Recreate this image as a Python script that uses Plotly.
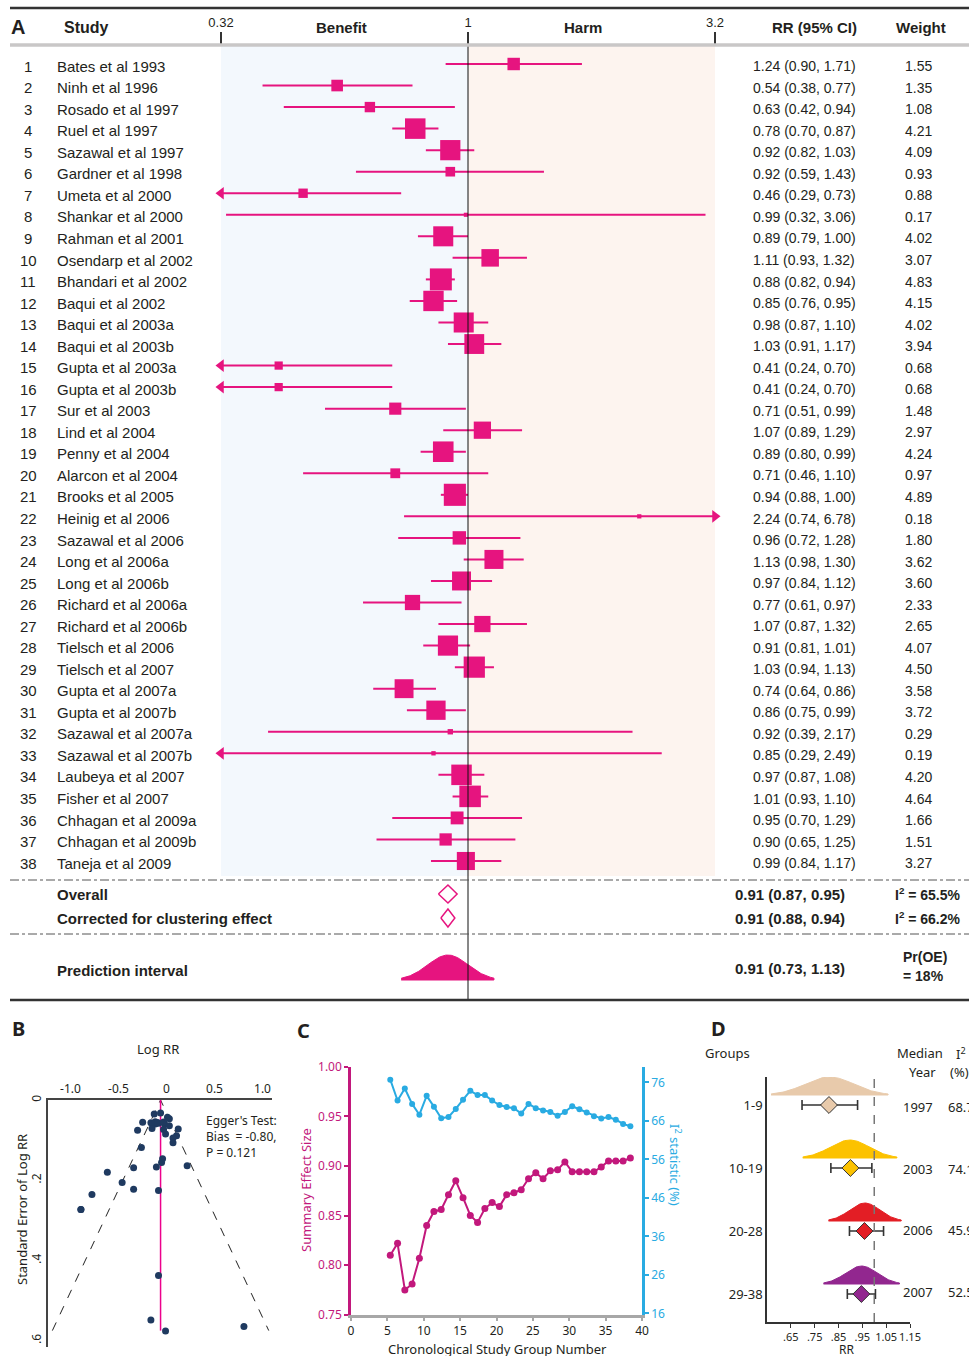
import numpy as np
import plotly.graph_objects as go

W, H = 969, 1356
def px(x): return x / W
def py(y): return 1 - y / H

# ---------------- Panel A data ----------------
studies = ["Bates et al 1993", "Ninh et al 1996", "Rosado et al 1997", "Ruel et al 1997",
           "Sazawal et al 1997", "Gardner et al 1998", "Umeta et al 2000", "Shankar et al 2000",
           "Rahman et al 2001", "Osendarp et al 2002", "Bhandari et al 2002", "Baqui et al 2002",
           "Baqui et al 2003a", "Baqui et al 2003b", "Gupta et al 2003a", "Gupta et al 2003b",
           "Sur et al 2003", "Lind et al 2004", "Penny et al 2004", "Alarcon et al 2004",
           "Brooks et al 2005", "Heinig et al 2006", "Sazawal et al 2006", "Long et al 2006a",
           "Long et al 2006b", "Richard et al 2006a", "Richard et al 2006b", "Tielsch et al 2006",
           "Tielsch et al 2007", "Gupta et al 2007a", "Gupta et al 2007b", "Sazawal et al 2007a",
           "Sazawal et al 2007b", "Laubeya et al 2007", "Fisher et al 2007", "Chhagan et al 2009a",
           "Chhagan et al 2009b", "Taneja et al 2009"]
rr = [1.24, 0.54, 0.63, 0.78, 0.92, 0.92, 0.46, 0.99, 0.89, 1.11, 0.88, 0.85, 0.98, 1.03,
      0.41, 0.41, 0.71, 1.07, 0.89, 0.71, 0.94, 2.24, 0.96, 1.13, 0.97, 0.77, 1.07, 0.91,
      1.03, 0.74, 0.86, 0.92, 0.85, 0.97, 1.01, 0.95, 0.90, 0.99]
ci_lo = [0.90, 0.38, 0.42, 0.70, 0.82, 0.59, 0.29, 0.32, 0.79, 0.93, 0.82, 0.76, 0.87, 0.91,
         0.24, 0.24, 0.51, 0.89, 0.80, 0.46, 0.88, 0.74, 0.72, 0.98, 0.84, 0.61, 0.87, 0.81,
         0.94, 0.64, 0.75, 0.39, 0.29, 0.87, 0.93, 0.70, 0.65, 0.84]
ci_hi = [1.71, 0.77, 0.94, 0.87, 1.03, 1.43, 0.73, 3.06, 1.00, 1.32, 0.94, 0.95, 1.10, 1.17,
         0.70, 0.70, 0.99, 1.29, 0.99, 1.10, 1.00, 6.78, 1.28, 1.30, 1.12, 0.97, 1.32, 1.01,
         1.13, 0.86, 0.99, 2.17, 2.49, 1.08, 1.10, 1.29, 1.25, 1.17]
weights = [1.55, 1.35, 1.08, 4.21, 4.09, 0.93, 0.88, 0.17, 4.02, 3.07, 4.83, 4.15, 4.02, 3.94,
           0.68, 0.68, 1.48, 2.97, 4.24, 0.97, 4.89, 0.18, 1.80, 3.62, 3.60, 2.33, 2.65, 4.07,
           4.50, 3.58, 3.72, 0.29, 0.19, 4.20, 4.64, 1.66, 1.51, 3.27]

summary_labels = ["Overall", "Corrected for clustering effect"]
summary_rr = [0.91, 0.91]
summary_lo = [0.87, 0.88]
summary_hi = [0.95, 0.94]
summary_i2 = [65.5, 66.2]
pi_rr, pi_lo, pi_hi = 0.91, 0.73, 1.13
pr_oe = 18

axis_max = 3.2
axis_min = 1 / axis_max
axis_ticktext = ["0.32", "1", "3.2"]

# ---------------- Panel B data ----------------
funnel_center_rr = 0.94
funnel_se_max = 0.575
egger_bias, egger_p = -0.80, 0.121

# ---------------- Panel C data ----------------
group_number = [5.4, 6.4, 7.4, 8.4, 9.4, 10.4, 11.4, 12.4, 13.4, 14.4, 15.4, 16.4, 17.4, 18.4,
                19.4, 20.4, 21.4, 22.4, 23.4, 24.4, 25.4, 26.4, 27.4, 28.4, 29.4, 30.4, 31.4,
                32.4, 33.4, 34.4, 35.4, 36.4, 37.4, 38.4]
summary_effect = [0.810, 0.822, 0.775, 0.781, 0.807, 0.840, 0.854, 0.856, 0.871, 0.885, 0.868,
                  0.850, 0.843, 0.857, 0.863, 0.859, 0.871, 0.873, 0.876, 0.887, 0.893, 0.887,
                  0.895, 0.896, 0.904, 0.894, 0.894, 0.894, 0.894, 0.899, 0.905, 0.905, 0.905,
                  0.908]
i2_stat = [76.7, 71.3, 74.4, 70.4, 67.6, 72.5, 69.7, 66.7, 67.0, 69.1, 71.5, 73.8, 72.7, 72.7,
           71.3, 70.1, 69.6, 69.3, 67.9, 70.4, 69.3, 68.7, 68.3, 67.3, 68.3, 69.8, 69.0, 68.2,
           67.2, 66.6, 67.0, 66.3, 65.2, 64.6]

# ---------------- Panel D data ----------------
group_labels = ["1-9", "10-19", "20-28", "29-38"]
group_rr = [0.81, 0.90, 0.959, 0.946]
group_lo = [0.697, 0.818, 0.896, 0.887]
group_hi = [0.930, 0.990, 1.039, 1.005]
group_pi_lo = [0.567, 0.700, 0.808, 0.787]
group_pi_hi = [1.058, 1.095, 1.113, 1.106]
group_year = ["1997", "2003", "2006", "2007"]
group_i2 = [68.7, 74.1, 45.9, 52.5]
group_colors = ["#e8caab", "#fcc200", "#e31e25", "#92278f"]

# ---------------- styles ----------------
MAG = "#e6147f"
TXT = "#231f20"
FA = "Liberation Sans, Arial, sans-serif"
FB = "Noto Sans, Open Sans, sans-serif"
MAGC = "#c2187c"
BLUE = "#29abe2"

fig = go.Figure()
n = len(studies)
row_y = list(range(1, n + 1))
row_px0, row_px1 = 64, 861
s = (row_px1 - row_px0) / (n - 1)
def rowpos(pix): return 1 + (pix - row_px0) / s

# ---- forest CI lines
lx, ly = [], []
for i in range(n):
    lx += [max(ci_lo[i], axis_min), min(ci_hi[i], axis_max), None]
    ly += [row_y[i], row_y[i], None]
fig.add_trace(go.Scatter(x=lx, y=ly, mode="lines", line=dict(color=MAG, width=2),
                         xaxis="x", yaxis="y", hoverinfo="skip", showlegend=False))
al = [(axis_min, row_y[i]) for i in range(n) if ci_lo[i] < axis_min]
ar = [(axis_max, row_y[i]) for i in range(n) if ci_hi[i] > axis_max]
if al:
    fig.add_trace(go.Scatter(x=[a[0] for a in al], y=[a[1] for a in al], mode="markers",
                             marker=dict(symbol="triangle-left", size=11, color=MAG, opacity=1),
                             xaxis="x", yaxis="y", showlegend=False))
if ar:
    fig.add_trace(go.Scatter(x=[a[0] for a in ar], y=[a[1] for a in ar], mode="markers",
                             marker=dict(symbol="triangle-right", size=11, color=MAG, opacity=1),
                             xaxis="x", yaxis="y", showlegend=False))
fig.add_trace(go.Scatter(x=rr, y=row_y, mode="markers",
                         marker=dict(symbol="square", color=MAG, opacity=1,
                                     size=[10 * np.sqrt(w) for w in weights],
                                     line=dict(width=0)),
                         xaxis="x", yaxis="y", showlegend=False))

sum_y = [rowpos(894), rowpos(918)]
hh = 9 / s
for k in range(2):
    fig.add_trace(go.Scatter(
        x=[summary_lo[k], summary_rr[k], summary_hi[k], summary_rr[k], summary_lo[k]],
        y=[sum_y[k], sum_y[k] - hh, sum_y[k], sum_y[k] + hh, sum_y[k]],
        mode="lines", fill="toself", fillcolor="white", line=dict(color=MAG, width=1.5),
        xaxis="x", yaxis="y", showlegend=False))

pi_base = rowpos(980)
pi_h = (980 - 955) / s
mu = np.log(pi_rr)
half = (np.log(pi_hi) - np.log(pi_lo)) / 2
sd = half / 2.3
t = np.linspace(np.log(pi_lo), np.log(pi_hi), 120)
dens = np.exp(-0.5 * ((t - mu) / sd) ** 2)
bx = list(np.exp(t)) + [pi_hi, pi_lo]
by = list(pi_base - pi_h * dens) + [pi_base, pi_base]
fig.add_trace(go.Scatter(x=bx, y=by, mode="lines", fill="toself", fillcolor=MAG,
                         line=dict(color=MAG, width=1), xaxis="x", yaxis="y", showlegend=False))

# ---------------- Panel B ----------------
logrr = [np.log(v) for v in rr]
se = [(np.log(h) - np.log(l)) / (2 * 1.96) for l, h in zip(ci_lo, ci_hi)]
c0 = np.log(funnel_center_rr)
fig.add_trace(go.Scatter(x=[c0 - 1.96 * funnel_se_max, c0, c0 + 1.96 * funnel_se_max],
                         y=[funnel_se_max, 0, funnel_se_max], mode="lines",
                         line=dict(color="#222", width=1, dash="dash"),
                         xaxis="x2", yaxis="y2", showlegend=False))
fig.add_trace(go.Scatter(x=[c0, c0], y=[0, funnel_se_max], mode="lines",
                         line=dict(color="#ec008c", width=1.5),
                         xaxis="x2", yaxis="y2", showlegend=False))
fig.add_trace(go.Scatter(x=logrr, y=se, mode="markers",
                         marker=dict(color="#1f3a60", size=7),
                         xaxis="x2", yaxis="y2", showlegend=False))

# ---------------- Panel C ----------------
fig.add_trace(go.Scatter(x=group_number, y=summary_effect, mode="lines+markers",
                         line=dict(color=MAGC, width=2), marker=dict(size=7, color=MAGC),
                         xaxis="x3", yaxis="y3", showlegend=False))
fig.add_trace(go.Scatter(x=group_number, y=i2_stat, mode="lines+markers",
                         line=dict(color=BLUE, width=2), marker=dict(size=6, color=BLUE),
                         xaxis="x3", yaxis="y4", showlegend=False))

# ---------------- Panel D ----------------
gy = [1, 2, 3, 4]
d_h = 18 / 63
d_off = 10 / 63
for g in range(4):
    m = group_rr[g]
    hw = (group_pi_hi[g] - group_pi_lo[g]) / 2
    ctr = (group_pi_hi[g] + group_pi_lo[g]) / 2
    sdg = hw / 2.4
    xs = np.linspace(group_pi_lo[g], group_pi_hi[g], 100)
    dd = np.exp(-0.5 * ((xs - ctr) / sdg) ** 2)
    base = gy[g] - d_off
    fig.add_trace(go.Scatter(x=list(xs) + [group_pi_hi[g], group_pi_lo[g]],
                             y=list(base - d_h * dd) + [base, base],
                             mode="lines", fill="toself", fillcolor=group_colors[g],
                             line=dict(color=group_colors[g], width=1),
                             xaxis="x5", yaxis="y5", showlegend=False))
    fig.add_trace(go.Scatter(x=[m], y=[gy[g]], mode="markers",
                             error_x=dict(type="data", symmetric=False,
                                          array=[group_hi[g] - m], arrayminus=[m - group_lo[g]],
                                          color="#333", thickness=1.6, width=5),
                             marker=dict(symbol="diamond", size=13, color=group_colors[g],
                                         line=dict(color="#333", width=1)),
                             xaxis="x5", yaxis="y5", showlegend=False))

# ---------------- shapes ----------------
shapes = []
shapes.append(dict(type="rect", xref="x", yref="paper", x0=axis_min, x1=1, y0=py(876), y1=py(46),
                   fillcolor="#f3f8fd", line=dict(width=0), layer="below"))
shapes.append(dict(type="rect", xref="x", yref="paper", x0=1, x1=axis_max, y0=py(876), y1=py(46),
                   fillcolor="#fdf4ef", line=dict(width=0), layer="below"))
shapes.append(dict(type="line", xref="x", yref="paper", x0=1, x1=1, y0=py(1000), y1=py(45),
                   line=dict(color="#111", width=1)))
shapes.append(dict(type="line", xref="paper", yref="paper", x0=px(10), x1=1, y0=py(8), y1=py(8),
                   line=dict(color="#333", width=2.5)))
shapes.append(dict(type="line", xref="paper", yref="paper", x0=px(10), x1=1, y0=py(45), y1=py(45),
                   line=dict(color="#c9c7c7", width=3.5)))
for yy in (880, 934):
    shapes.append(dict(type="line", xref="paper", yref="paper", x0=px(10), x1=1, y0=py(yy), y1=py(yy),
                       line=dict(color="#555", width=1, dash="dashdot")))
shapes.append(dict(type="line", xref="paper", yref="paper", x0=px(10), x1=1, y0=py(1000), y1=py(1000),
                   line=dict(color="#333", width=2.5)))
shapes.append(dict(type="line", xref="x5", yref="paper", x0=1, x1=1, y0=py(1322), y1=py(1078),
                   line=dict(color="#777", width=1.5, dash="dash")))

# ---------------- annotations ----------------
ann = []
def A(x, y, text, size=15, color=TXT, xanchor="left", family=FA, bold=False, yref="paper",
      textangle=0, yanchor="middle"):
    if bold:
        text = "<b>" + text + "</b>"
    ann.append(dict(x=px(x), y=(py(y) if yref == "paper" else y), xref="paper", yref=yref,
                    text=text, showarrow=False, xanchor=xanchor, yanchor=yanchor,
                    font=dict(size=size, color=color, family=family), textangle=textangle))

A(18, 27, "A", size=20, bold=True, xanchor="center")
A(62, 28, "Study", size=16, bold=True)
A(341, 28, "Benefit", size=15, bold=True, xanchor="center")
A(583, 28, "Harm", size=15, bold=True, xanchor="center")
A(814, 28, "RR (95% CI)", size=15, bold=True, xanchor="center")
A(921, 28, "Weight", size=15, bold=True, xanchor="center")

for i in range(n):
    yv = row_y[i] + 0.1
    ann.append(dict(x=px(28), y=yv, xref="paper", yref="y", text=str(i + 1), showarrow=False,
                    xanchor="center", font=dict(size=15, color=TXT, family=FA)))
    ann.append(dict(x=px(55), y=yv, xref="paper", yref="y", text=studies[i], showarrow=False,
                    xanchor="left", font=dict(size=15, color=TXT, family=FA)))
    ann.append(dict(x=px(751), y=yv, xref="paper", yref="y",
                    text=f"{rr[i]:.2f} ({ci_lo[i]:.2f}, {ci_hi[i]:.2f})", showarrow=False,
                    xanchor="left", font=dict(size=14, color=TXT, family=FA)))
    ann.append(dict(x=px(918), y=yv, xref="paper", yref="y", text=f"{weights[i]:.2f}",
                    showarrow=False, xanchor="center", font=dict(size=14, color=TXT, family=FA)))

for k in range(2):
    yy = [894, 918][k]
    A(55, yy, summary_labels[k], size=15, bold=True)
    A(733, yy, f"{summary_rr[k]:.2f} ({summary_lo[k]:.2f}, {summary_hi[k]:.2f})", size=15, bold=True)
    A(893, yy, f"I<sup>2</sup> = {summary_i2[k]}%", size=14, bold=True)
A(55, 970, "Prediction interval", size=15, bold=True)
A(733, 968, f"{pi_rr:.2f} ({pi_lo:.2f}, {pi_hi:.2f})", size=15, bold=True)
A(901, 957, "Pr(OE)", size=14, bold=True)
A(901, 976, f"= {pr_oe}%", size=14, bold=True)

A(18, 1028, "B", size=20, bold=True, xanchor="center", family=FB)
A(158, 1049, "Log RR", size=13, xanchor="center", family=FB)
A(22, 1210, "Standard Error of Log RR", size=13, xanchor="center", family=FB, textangle=-90)
A(204, 1120, "Egger's Test:", size=12, family=FB)
A(204, 1136, f"Bias  = {egger_bias:.2f},", size=12, family=FB)
A(204, 1152, f"P = {egger_p}", size=12, family=FB)

A(303, 1030, "C", size=20, bold=True, xanchor="center", family=FB)
A(306, 1190, "Summary Effect Size", size=13, xanchor="center", color=MAGC, family=FB, textangle=-90)
A(676, 1165, "I<sup>2</sup> statistic (%)", size=13, xanchor="center", color=BLUE, family=FB,
  textangle=90)
A(497, 1348.5, "Chronological Study Group Number", size=13, xanchor="center", family=FB)

A(718, 1028, "D", size=20, bold=True, xanchor="center", family=FB)
A(727, 1053, "Groups", size=13, xanchor="center", family=FB)
A(920, 1053, "Median", size=13, xanchor="center", family=FB)
A(954, 1053, "I<sup>2</sup>", size=13, xanchor="left", family=FB)
A(922, 1072, "Year", size=13, xanchor="center", family=FB)
A(948, 1072, "(%)", size=13, xanchor="left", family=FB)
for g in range(4):
    yy = [1107, 1169, 1230, 1292][g]
    A(918, yy, group_year[g], size=13, xanchor="center", family=FB)
    A(946, yy, f"{group_i2[g]:.1f}", size=13, xanchor="left", family=FB)
A(846, 1349, "RR", size=12, xanchor="center", family=FB)

dec = (715 - 221) / (np.log10(axis_max) - np.log10(axis_min))
xl = np.log10(axis_min) - (221 - 200) / dec
xr = np.log10(axis_max) + (736 - 715) / dec

fig.update_layout(
    width=W, height=H, autosize=False, margin=dict(l=0, r=0, t=0, b=0, autoexpand=False),
    paper_bgcolor="white", plot_bgcolor="rgba(0,0,0,0)", showlegend=False,
    shapes=shapes, annotations=ann,
    xaxis=dict(type="log", domain=[px(200), px(736)], range=[xl, xr], anchor="y", side="top",
               showgrid=False, zeroline=False, showline=False, ticks="outside", ticklen=12,
               tickwidth=2, tickcolor="#333", tickvals=[axis_min, 1, axis_max],
               ticktext=axis_ticktext, tickfont=dict(size=13, family=FA, color=TXT)),
    yaxis=dict(domain=[py(1000), py(45)], range=[rowpos(1000), rowpos(45)], visible=False,
               anchor="x"),
    xaxis2=dict(domain=[px(48), px(272)], range=[(48 - 166.5) / 96, (272 - 166.5) / 96],
                anchor="y2", side="top", showgrid=False, zeroline=False, showline=True,
                linecolor="#444", linewidth=2, ticks="",
                tickvals=[-1, -0.5, 0, 0.5, 1], ticktext=["-1.0", "-0.5", "0", "0.5", "1.0"],
                tickfont=dict(size=12, family=FB, color=TXT)),
    yaxis2=dict(domain=[py(1347), py(1100)], range=[(1347 - 1100) / 401, 0], anchor="x2",
                showgrid=False, zeroline=False, showline=True, linecolor="#444", linewidth=2,
                ticks="", tickvals=[0, 0.2, 0.4, 0.6], ticktext=["0", ".2", ".4", ".6"],
                tickangle=-90, tickfont=dict(size=12, family=FB, color=TXT)),
    xaxis3=dict(domain=[px(351), px(642)], range=[0, 40], anchor="y3", showgrid=False,
                zeroline=False, showline=True, linecolor="#a7a7a7", linewidth=3,
                ticks="outside", ticklen=3, tickcolor="#a7a7a7", tickwidth=1.5,
                tickvals=[0, 5, 10, 15, 20, 25, 30, 35, 40],
                tickfont=dict(size=12, family=FB, color=TXT)),
    yaxis3=dict(domain=[py(1314.7), py(1066.7)], range=[0.75, 1.0], anchor="x3",
                showgrid=False, zeroline=False, showline=True, linecolor=MAGC, linewidth=2.5,
                ticks="outside", ticklen=4, tickcolor=MAGC, tickwidth=1.5,
                tickvals=[0.75, 0.80, 0.85, 0.90, 0.95, 1.00], tickformat=".2f",
                tickfont=dict(size=12, family=FB, color=MAGC)),
    yaxis4=dict(domain=[py(1314.7), py(1066.7)], range=[15.66, 80.07], anchor="x3",
                overlaying="y3", side="right", showgrid=False, zeroline=False, showline=True,
                linecolor=BLUE, linewidth=2.5, ticks="outside", ticklen=4, tickcolor=BLUE,
                tickwidth=1.5, tickvals=[16, 26, 36, 46, 56, 66, 76],
                tickfont=dict(size=12, family=FB, color=BLUE)),
    xaxis5=dict(domain=[px(767), px(910)], range=[0.55, 1.15], anchor="y5", showgrid=False,
                zeroline=False, showline=True, linecolor="#333", linewidth=1.5,
                ticks="outside", ticklen=4, tickcolor="#333", tickangle=0,
                tickvals=[0.65, 0.75, 0.85, 0.95, 1.05, 1.15],
                ticktext=[".65", ".75", ".85", ".95", "1.05", "1.15"],
                tickfont=dict(size=11, family=FB, color=TXT)),
    yaxis5=dict(domain=[py(1322), py(1077)], range=[1 + (1322 - 1105) / 63, 1 + (1077 - 1105) / 63],
                anchor="x5", showgrid=False, zeroline=False, showline=True, linecolor="#333",
                linewidth=1.5, ticks="", tickvals=gy, ticktext=group_labels,
                tickfont=dict(size=13, family=FB, color=TXT)),
)

post = ("var gd=document.getElementById('{plot_id}');"
        "document.documentElement.style.margin='0';document.documentElement.style.padding='0';"
        "document.body.style.margin='0';document.body.style.padding='0';"
        "document.documentElement.style.overflow='hidden';document.body.style.overflow='hidden';"
        "gd.style.position='fixed';gd.style.left='0px';gd.style.top='0px';")

fig.write_html("out.html", config={"displayModeBar": False}, post_script=post)
